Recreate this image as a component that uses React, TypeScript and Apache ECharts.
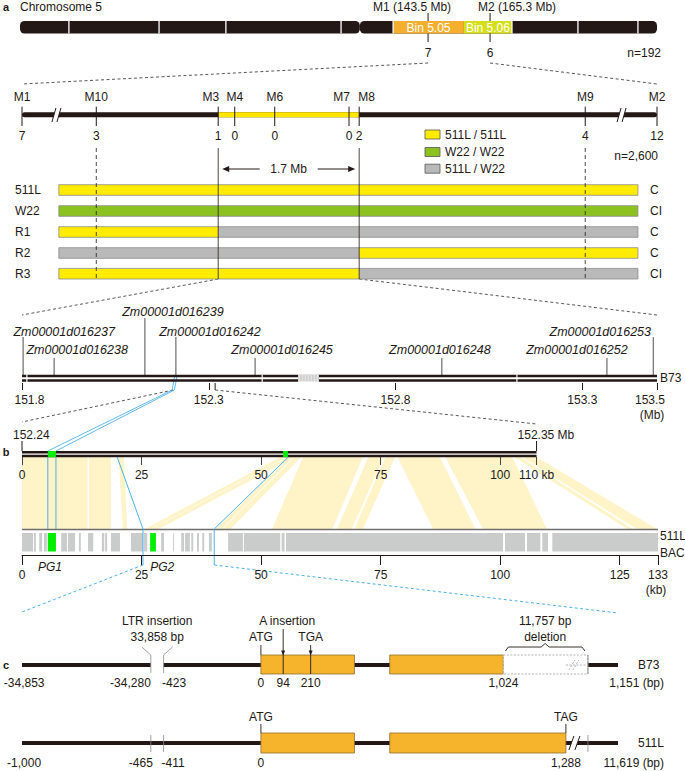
import React, { useEffect, useRef } from "react";
import * as echarts from "echarts";

// ---------------- Panel a: chromosome 5 overview (Mb) ----------------
const chr5LengthMb = 224;
const chr5CentromereMb = 119.5;
const chr5BandEdgesMb = [17.2, 48.9, 72.4, 112.9, 196.2, 217.3];
const binNames = ["Bin 5.05", "Bin 5.06"];
const binStartMb = [131.2, 156.1];
const binEndMb = [156.1, 173.0];
const chrMarkerLabels = ["M1 (143.5 Mb)", "M2 (165.3 Mb)"];
const chrMarkerMb = [143.5, 165.3];
const chrMarkerRecombinants = [7, 6];
const chrPopulation = "n=192";

// ---------------- Panel a: fine map (schematic % along map) ----------------
const mapMarkers = ["M1", "M10", "M3", "M4", "M6", "M7", "M8", "M9", "M2"];
const mapMarkerPos = [0, 11.7, 30.9, 33.5, 39.8, 51.5, 53.1, 88.7, 100];
const mapRecombinants = [7, 3, 1, 0, 0, 0, 2, 4, 12];
const mapBreakPos = [5.5, 94.5];
const mapPopulation = "n=2,600";
const mapIntervalLabel = "1.7 Mb";
const genotypeNames = ["511L / 511L", "W22 / W22", "511L / W22"];
const lineNames = ["511L", "W22", "R1", "R2", "R3"];
const linePhenotypes = ["C", "CI", "C", "C", "CI"];
// genotype index (0 = 511L/511L, 1 = W22/W22, 2 = 511L/W22) left of M3, M3–M8, right of M8
const lineGenotypes = [[0, 0, 0], [1, 1, 1], [0, 2, 2], [2, 2, 0], [0, 0, 2]];
const lineBarExtent = [5.8, 97.0];

// ---------------- Panel a: B73 genes (Mb) ----------------
const geneIds = ["Zm00001d016237", "Zm00001d016238", "Zm00001d016239", "Zm00001d016242", "Zm00001d016245", "Zm00001d016248", "Zm00001d016252", "Zm00001d016253"];
const geneMb = [151.803, 151.886, 152.129, 152.212, 152.424, 152.924, 153.366, 153.49];
const geneTier = [1, 2, 0, 1, 2, 2, 2, 1];
const b73WindowMb = [151.8, 153.5];
const mbTicks = [151.8, 152.3, 152.8, 153.3, 153.5];
const b73LineBreaksMb = [151.813, 152.443, 153.125];
const b73UnsequencedMb = [152.539, 152.595];
const zoomRegionMb = [152.205, 152.317];

// ---------------- Panel b: B73 vs 511L BAC (kb) ----------------
const regionLabels = ["152.24", "152.35 Mb"];
const b73RegionKb = 107.6;
const b73KbTicks = [0, 25, 50, 75, 100, 107.6];
const b73KbTickLabels = ["0", "25", "50", "75", "100", "110 kb"];
const bacLengthKb = 133;
const bacKbTicks = [0, 25, 50, 75, 100, 125, 133];
// [B73 start, B73 end, BAC start, BAC end]
const syntenyKb = [
  [0, 13.7, 0, 13.7],
  [14.0, 18.6, 14.0, 18.6],
  [20.2, 21.3, 21.1, 22.0],
  [54.0, 55.4, 25.7, 26.9],
  [55.6, 57.0, 27.1, 28.6],
  [55.9, 56.8, 40.5, 41.8],
  [57.0, 58.4, 42.0, 43.6],
  [58.8, 71.3, 52.3, 64.9],
  [72.4, 75.6, 65.9, 69.0],
  [76.0, 78.0, 69.5, 71.3],
  [78.5, 87.4, 86.0, 94.8],
  [88.5, 102.5, 96.4, 109.8],
  [102.9, 104.2, 126.6, 127.8],
  [104.6, 107.6, 128.5, 132.8],
];
const bacBlocksKb = [
  [0, 2.3], [2.5, 2.9], [3.6, 4.2], [4.6, 5.2], [8.2, 9.4], [9.6, 11.1], [11.9, 12.3], [13.8, 14.9],
  [16.7, 17.2], [17.4, 17.8], [18.6, 20.5], [22.8, 25.3], [25.5, 26.2], [29.1, 29.7], [31.6, 31.8],
  [33.3, 33.9], [34.1, 35.1], [35.4, 35.8], [36.6, 37.0], [37.7, 38.1], [39.1, 39.7], [43.1, 46.2],
  [46.4, 54.0], [54.3, 54.9], [55.2, 100.6], [101.0, 105.2], [105.6, 108.4], [108.8, 110.0], [110.9, 133],
];
const pgNames = ["PG1", "PG2"];
const pgB73Kb = [[5.4, 7.1], [54.6, 55.6]];
const pgBacKb = [[5.4, 7.1], [26.8, 28.0]];
// blue links [B73 kb, BAC kb]
const pgLinksKb = [[5.4, 5.4], [7.1, 7.1], [19.9, 25.3], [55.7, 40.2]];

// ---------------- Panel c: gene structure (bp, 511L frame) ----------------
const displayRangeBp = [-1009, 1508];
const ltrSiteBp = [-465, -411];
const l511ExonsBp = [[0, 395], [544, 1288]];
const b73ExonsBp = [[0, 395], [544, 1024]];
const b73DeletionBp = [1024, 1381];
const aInsertionBp = 94;
const tgaBp = 210;
const b73TickBp = [-1000, -465, -411, 0, 94, 210, 1024];
const b73TickLabels = ["-34,853", "-34,280", "-423", "0", "94", "210", "1,024"];
const b73EndLabel = "1,151 (bp)";
const l511TickBp = [-1000, -465, -411, 0, 1288];
const l511TickLabels = ["-1,000", "-465", "-411", "0", "1,288"];
const l511EndLabel = "11,619 (bp)";
const ltrLabel = ["LTR insertion", "33,858 bp"];
const aInsertionLabel = "A insertion";
const deletionLabel = ["11,757 bp", "deletion"];

// ---------------- styles ----------------
const FONT = "'Liberation Sans', Arial, Helvetica, sans-serif";
const INK = "#231815";
const BIN_COLORS = ["#F5AF2E", "#D5DF1C"];
const GENO_COLORS = ["#FFEC00", "#8CC220", "#B9B9B9"];
const MAP_YELLOW = "#FFE600";
const RIBBON = "#FFF3C8";
const BAC_GRAY = "#CACBCB";
const PG_GREEN = "#00EE00";
const BLUE = "#3AA8E6";
const EXON = "#F6B42C";
const EXON_EDGE = "#8E6F2F";
const CHR_LABEL_SHIFT = [-16, 27];
const MAP_LABEL_ALIGN = ["center", "center", "right", "center", "center", "right", "left", "center", "center"];
const GENE_LABEL_SHIFT = [41, 23, 28, 34, 27, -2, -30, -53];
const ROW_Y = [190, 211, 232, 253, 273.7];

function font(size: number, o: any = {}) {
  return `${o.italic ? "italic " : ""}${o.bold ? "bold " : ""}${size}px ${FONT}`;
}
function T(x: number, y: number, text: string, o: any = {}) {
  const align = o.align || "center";
  const va = o.valign || "middle";
  return {
    type: "text", x, y, silent: true,
    style: { text, fill: o.color || INK, font: font(o.size || 12, o), align, verticalAlign: va, textAlign: align, textVerticalAlign: va },
  };
}
function L(x1: number, y1: number, x2: number, y2: number, o: any = {}) {
  const style: any = { stroke: o.color || INK, lineWidth: o.width ?? 1 };
  if (o.dash) style.lineDash = o.dash;
  return { type: "line", silent: true, shape: { x1, y1, x2, y2 }, style };
}
function R(x: number, y: number, w: number, h: number, fill: string, o: any = {}) {
  const style: any = { fill, stroke: o.stroke || "none", lineWidth: o.lw ?? 1 };
  if (o.dash) style.lineDash = o.dash;
  return { type: "rect", silent: true, shape: { x, y, width: w, height: h, r: o.r || 0 }, style };
}
function PG(points: number[][], fill: string, o: any = {}) {
  return { type: "polygon", silent: true, shape: { points }, style: { fill, stroke: o.stroke || "none", lineWidth: o.lw ?? 1 } };
}
function PL(points: number[][], color: string, width = 1, dash?: number[]) {
  const style: any = { stroke: color, lineWidth: width, fill: "none" };
  if (dash) style.lineDash = dash;
  return { type: "polyline", silent: true, shape: { points }, style };
}
const X = (api: any, v: number) => api.coord([v, 0])[0];
function spanRect(api: any, x0: number, x1: number, y0: number, y1: number, fill: string, o: any = {}) {
  const a = X(api, x0), b = X(api, x1);
  return R(a, y0, b - a, y1 - y0, fill, o);
}

// ---------------- renderers ----------------
function renderChr(api: any) {
  const ch: any[] = [];
  const y0 = 21, y1 = 33.5;
  ch.push(spanRect(api, 0, chr5CentromereMb, y0, y1, INK, { r: 4.5 }));
  ch.push(spanRect(api, chr5CentromereMb, chr5LengthMb, y0, y1, INK, { r: 4.5 }));
  binNames.forEach((name, i) => {
    ch.push(spanRect(api, binStartMb[i], binEndMb[i], y0, y1, BIN_COLORS[i]));
    ch.push(T(X(api, (binStartMb[i] + binEndMb[i]) / 2), 27.5, name, { color: "#fff" }));
  });
  for (const e of [...chr5BandEdgesMb, binStartMb[0], binEndMb[binEndMb.length - 1]]) {
    const x = X(api, e);
    ch.push(L(x, y0, x, y1, { color: "#fff", width: 1.3 }));
  }
  chrMarkerMb.forEach((m, i) => {
    const x = X(api, m);
    ch.push(L(x, 13, x, y0));
    ch.push(L(x, y1, x, 42));
    ch.push(T(x + CHR_LABEL_SHIFT[i], 6.5, chrMarkerLabels[i]));
    ch.push(T(x, 53, String(chrMarkerRecombinants[i])));
  });
  ch.push(T(X(api, 0), 6.5, "Chromosome 5", { align: "left" }));
  ch.push(T(X(api, chr5LengthMb) + 4, 53, chrPopulation, { align: "right" }));
  return ch;
}

function renderMap(api: any) {
  const ch: any[] = [];
  const ly0 = 112.3, ly1 = 117.3;
  const m3 = mapMarkerPos[2], m8 = mapMarkerPos[6];
  ch.push(spanRect(api, 0, 100, ly0, ly1, INK, { r: 2.5 }));
  ch.push(spanRect(api, m3, m8, ly0, ly1, MAP_YELLOW));
  for (const b of mapBreakPos) {
    const x = X(api, b), yT = 108, yB = 122;
    ch.push(PG([[x - 5, yB], [x - 1, yT], [x + 4, yT], [x, yB]], "#fff"));
    ch.push(L(x - 5, yB, x - 1, yT));
    ch.push(L(x, yB, x + 4, yT));
  }
  mapMarkers.forEach((name, i) => {
    const x = X(api, mapMarkerPos[i]);
    ch.push(L(x, 106.7, x, 126));
    const al = MAP_LABEL_ALIGN[i];
    ch.push(T(x + (al === "right" ? 1 : al === "left" ? -1 : 0), 97, name, { align: al }));
    ch.push(T(x, 135.5, String(mapRecombinants[i])));
  });
  ch.push(T(X(api, 100) + 1, 156, mapPopulation, { align: "right" }));
  // legend
  genotypeNames.forEach((name, i) => {
    const yc = [134.5, 152, 168.7][i];
    ch.push(R(425, yc - 4.5, 15, 9, GENO_COLORS[i], { stroke: "#555", lw: 0.8 }));
    ch.push(T(445, yc, name, { align: "left" }));
  });
  // interval arrow
  const xl = X(api, m3), xr = X(api, m8), mid = (xl + xr) / 2, ya = 169;
  ch.push(T(mid, ya, mapIntervalLabel));
  ch.push(L(mid - 29, ya, xl + 8, ya));
  ch.push(PG([[xl + 4, ya], [xl + 11, ya - 3], [xl + 11, ya + 3]], INK));
  ch.push(L(mid + 29, ya, xr - 8, ya));
  ch.push(PG([[xr - 4, ya], [xr - 11, ya - 3], [xr - 11, ya + 3]], INK));
  // genotype rows
  lineNames.forEach((name, r) => {
    const yc = ROW_Y[r], yT = yc - 5.3, yB = yc + 5.3;
    const edges = [lineBarExtent[0], m3, m8, lineBarExtent[1]];
    lineGenotypes[r].forEach((g, k) => ch.push(spanRect(api, edges[k], edges[k + 1], yT, yB, GENO_COLORS[g])));
    ch.push(spanRect(api, edges[0], edges[3], yT, yB, "none", { stroke: "#8C8C8C", lw: 0.8 }));
    ch.push(T(X(api, 0) - 7, yc, name, { align: "left" }));
    ch.push(T(X(api, 100) - 7, yc, linePhenotypes[r], { align: "left" }));
  });
  [1, 7].forEach((i) => {
    const x = X(api, mapMarkerPos[i]);
    ch.push(L(x, 148, x, 279, { dash: [4, 3], width: 0.8 }));
  });
  [2, 6].forEach((i) => {
    const x = X(api, mapMarkerPos[i]);
    ch.push(L(x, 148, x, 279, { width: 0.8 }));
  });
  return ch;
}

function renderGenes(api: any) {
  const ch: any[] = [];
  const TIER_Y = [312, 332, 350];
  const TICK_TOP = [318, 337, 358];
  geneIds.forEach((id, i) => {
    const x = X(api, geneMb[i]);
    const t = geneTier[i];
    ch.push(L(x, TICK_TOP[t], x, 375, { color: "#3a3a3a", width: 0.9 }));
    ch.push(T(x + GENE_LABEL_SHIFT[i], TIER_Y[t], id, { italic: true, size: 12.5 }));
  });
  ch.push(spanRect(api, b73WindowMb[0], b73WindowMb[1], 374.8, 377.3, INK));
  ch.push(spanRect(api, b73WindowMb[0], b73WindowMb[1], 379.2, 381.7, INK));
  for (const b of b73LineBreaksMb) {
    const x = X(api, b);
    ch.push(L(x, 374.5, x, 382, { color: "#fff", width: 1.2 }));
  }
  const u0 = X(api, b73UnsequencedMb[0]), u1 = X(api, b73UnsequencedMb[1]);
  ch.push(R(u0, 374.5, u1 - u0, 7.5, "#fff"));
  for (let x = u0 + 0.75; x < u1; x += 1.5) ch.push(L(x, 375, x, 381.5, { color: "#9a9a9a", width: 0.6 }));
  ch.push(T(X(api, b73WindowMb[1]) + 3, 378, "B73", { align: "left" }));
  ch.push(T(X(api, b73WindowMb[1]) - 5, 415, "(Mb)"));
  const xz = X(api, zoomRegionMb[1]);
  ch.push(L(xz, 383, xz, 390));
  return ch;
}

function renderPanelB(api: any) {
  const ch: any[] = [];
  const yTop = 457, yBot = 529;
  for (const [a, b, c, d] of syntenyKb) {
    ch.push(PG([[X(api, a), yTop], [X(api, b), yTop], [X(api, d), yBot], [X(api, c), yBot]], RIBBON));
  }
  // B73 double line
  ch.push(spanRect(api, 0, b73RegionKb, 451, 453.4, INK));
  ch.push(spanRect(api, 0, b73RegionKb, 454.8, 457.2, INK));
  for (const v of [0, b73RegionKb]) {
    const x = X(api, v);
    ch.push(L(x, 441, x, 451));
  }
  ch.push(T(X(api, 0) - 9, 435, regionLabels[0], { align: "left" }));
  ch.push(T(X(api, b73RegionKb) - 19, 435, regionLabels[1], { align: "left" }));
  // BAC
  ch.push(L(X(api, 0), 529.5, X(api, bacLengthKb), 529.5, { color: "#6d6d6d", width: 1.5 }));
  for (const [s, e] of bacBlocksKb) ch.push(spanRect(api, s, e, 533, 551.5, BAC_GRAY));
  pgNames.forEach((name, i) => {
    ch.push(spanRect(api, pgB73Kb[i][0], pgB73Kb[i][1], 451, 457.2, PG_GREEN));
    ch.push(spanRect(api, pgBacKb[i][0], pgBacKb[i][1], 533, 551.5, PG_GREEN));
    const x = i === 0 ? X(api, (pgBacKb[i][0] + pgBacKb[i][1]) / 2) - 2 : X(api, pgBacKb[i][0]);
    ch.push(T(x, 567, name, { italic: true, align: i === 0 ? "center" : "left" }));
  });
  ch.push(T(X(api, bacLengthKb) + 2, 536, "511L", { align: "left" }));
  ch.push(T(X(api, bacLengthKb) + 2, 553, "BAC", { align: "left" }));
  ch.push(T(X(api, bacLengthKb) - 2, 590, "(kb)"));
  // blue links
  pgLinksKb.forEach(([top, bot], i) => {
    const pts = [[X(api, top), yTop], [X(api, bot), yBot]];
    if (i >= 2) pts.push([X(api, bot), 565]);
    ch.push(PL(pts, BLUE, 0.9));
  });
  return ch;
}

function renderPanelC(api: any) {
  const ch: any[] = [];
  const [x0, x1] = [X(api, displayRangeBp[0]), X(api, displayRangeBp[1])];
  const gL = X(api, ltrSiteBp[0]), gR = X(api, ltrSiteBp[1]);
  // ---- B73 ----
  const yb = 665, bT = 655, bB = 674;
  ch.push(R(x0, yb - 2, x1 - x0, 4, INK));
  ch.push(R(gL, yb - 3, gR - gL, 6, "#fff"));
  ch.push(PL([[gL - 9, 647], [gL, 655], [gL, 673]], "#8a8a8a", 0.8));
  ch.push(PL([[gR + 9, 647], [gR, 655], [gR, 673]], "#8a8a8a", 0.8));
  for (const [s, e] of b73ExonsBp) ch.push(spanRect(api, s, e, bT, bB, EXON, { stroke: EXON_EDGE, lw: 0.8 }));
  ch.push(spanRect(api, b73DeletionBp[0], b73DeletionBp[1], bT, bB, "#fff", { stroke: "#a0a0a0", lw: 0.8, dash: [2, 1.5] }));
  const xd = X(api, b73DeletionBp[1]);
  ch.push(L(xd, bT, xd, bB, { color: "#8a8a8a", width: 0.9 }));
  const x1288 = X(api, l511ExonsBp[1][1]);
  ch.push(L(x1288, yb, xd, yb, { color: "#a0a0a0", width: 0.8, dash: [2, 1.5] }));
  ch.push(L(x1288 + 3, yb + 5, x1288 + 9, yb - 5, { color: "#a0a0a0", width: 0.8, dash: [2, 1.5] }));
  ch.push(L(x1288 + 7, yb + 5, x1288 + 13, yb - 5, { color: "#a0a0a0", width: 0.8, dash: [2, 1.5] }));
  // insertion / codon marks
  const xA = X(api, aInsertionBp), xT = X(api, tgaBp), xS = X(api, 0);
  ch.push(L(xA, 629, xA, bB, { width: 0.9 }));
  ch.push(L(xT, 645, xT, bB, { width: 0.9 }));
  ch.push(L(xS, 645, xS, bT, { width: 0.9 }));
  for (const x of [xA, xT]) ch.push(PG([[x - 2, 650.5], [x + 2, 650.5], [x, 655.5]], INK));
  ch.push(T((gL + gR) / 2, 621, ltrLabel[0]));
  ch.push(T((gL + gR) / 2, 637, ltrLabel[1]));
  ch.push(T(xA + 4, 621, aInsertionLabel));
  ch.push(T(xS, 637, "ATG"));
  ch.push(T(xT, 637, "TGA"));
  const d0 = X(api, b73DeletionBp[0]) + 2, d1 = xd - 3, dm = (d0 + d1) / 2;
  ch.push(T(dm, 621, deletionLabel[0]));
  ch.push(T(dm, 637, deletionLabel[1]));
  ch.push(PL([[d0, 651], [d0 + 3, 647], [dm - 4, 647], [dm, 643.5], [dm + 4, 647], [d1 - 3, 647], [d1, 651]], INK, 0.9));
  b73TickBp.forEach((v, i) => {
    const x = X(api, v);
    const align = i === 1 ? "right" : i === 2 ? "left" : "center";
    ch.push(T(x + (i === 1 ? 0 : i === 2 ? -1.5 : 0), 683, b73TickLabels[i], { align }));
  });
  ch.push(T(x1 + 46, 683, b73EndLabel, { align: "right" }));
  ch.push(T(x1 + 20, yb, "B73", { align: "left" }));
  // ---- 511L ----
  const yl = 743, lT = 733, lB = 753;
  ch.push(R(x0, yl - 2, x1 - x0, 4, INK));
  for (const x of [gL, gR, xd]) ch.push(L(x, 735, x, 752, { color: "#8a8a8a", width: 0.8 }));
  for (const [s, e] of l511ExonsBp) ch.push(spanRect(api, s, e, lT, lB, EXON, { stroke: EXON_EDGE, lw: 0.8 }));
  ch.push(PG([[x1288 + 3, yl + 7], [x1288 + 8, yl - 7], [x1288 + 14, yl - 7], [x1288 + 9, yl + 7]], "#fff"));
  ch.push(L(x1288 + 3, yl + 7, x1288 + 8, yl - 7));
  ch.push(L(x1288 + 9, yl + 7, x1288 + 14, yl - 7));
  ch.push(L(xS, 724, xS, lT, { width: 0.9 }));
  ch.push(L(x1288, 724, x1288, lT, { width: 0.9 }));
  ch.push(T(xS, 717, "ATG"));
  ch.push(T(x1288, 717, "TAG"));
  l511TickBp.forEach((v, i) => {
    const x = X(api, v);
    const align = i === 1 ? "right" : i === 2 ? "left" : "center";
    ch.push(T(x + (i === 1 ? 2 : i === 2 ? -2 : 0), 763, l511TickLabels[i], { align }));
  });
  ch.push(T(x1 + 46, 763, l511EndLabel, { align: "right" }));
  ch.push(T(x1 + 20, yl, "511L", { align: "left" }));
  return ch;
}

function custom(g: number, xmin: number, render: (api: any) => any[]) {
  return {
    type: "custom", xAxisIndex: g, yAxisIndex: g, data: [[xmin, 0]], silent: true, clip: false, z: 2,
    renderItem: (_p: any, api: any) => ({ type: "group", children: render(api) }),
  };
}

function hiddenX(g: number, min: number, max: number) {
  return { gridIndex: g, type: "value", min, max, show: false };
}
function tickX(g: number, min: number, max: number, ticks: number[], o: any) {
  return {
    gridIndex: g, type: "value", min, max, position: "bottom", z: 10,
    axisLine: { show: !!o.line, lineStyle: { color: INK, width: 1 } },
    axisTick: { show: true, length: o.len, customValues: ticks, lineStyle: { color: o.tickColor || INK, width: 1 } },
    axisLabel: {
      show: true, customValues: ticks, margin: o.margin, color: INK, fontFamily: FONT, fontSize: 12,
      formatter: o.formatter, rich: o.rich,
    },
    splitLine: { show: false },
  };
}

function buildOption() {
  const FULL = { top: 0, height: 771, outerBoundsMode: "none", containLabel: false };
  const grids = [
    { left: 20, width: 637, ...FULL },
    { left: 22, width: 635, ...FULL },
    { left: 22, width: 635, ...FULL },
    { left: 22, width: 635, top: 300, height: 83, outerBoundsMode: "none" },
    { left: 22, width: 636, ...FULL },
    { left: 22, width: 636, top: 400, height: 57, outerBoundsMode: "none" },
    { left: 22, width: 636, top: 500, height: 55, outerBoundsMode: "none" },
    { left: 22, width: 596, ...FULL },
  ];
  const richBase = { fontFamily: FONT, fontSize: 12, color: INK };
  const xAxis = [
    hiddenX(0, 0, chr5LengthMb),
    hiddenX(1, 0, 100),
    hiddenX(2, b73WindowMb[0], b73WindowMb[1]),
    tickX(3, b73WindowMb[0], b73WindowMb[1], mbTicks, {
      len: 7, margin: 11,
      formatter: (v: number) => (v <= mbTicks[0] ? `{a|${v.toFixed(1)}}` : v >= mbTicks[mbTicks.length - 1] ? `{b|${v.toFixed(1)}}` : v.toFixed(1)),
      rich: { a: { ...richBase, padding: [0, 0, 0, 15] }, b: { ...richBase, padding: [0, 14, 0, 0] } },
    }),
    hiddenX(4, 0, bacLengthKb),
    tickX(5, 0, bacLengthKb, b73KbTicks, {
      len: 8, margin: 12, tickColor: "#444",
      formatter: (v: number) => b73KbTickLabels[b73KbTicks.indexOf(v)] ?? String(v),
    }),
    tickX(6, 0, bacLengthKb, bacKbTicks, { len: 10, margin: 14, line: true, formatter: (v: number) => String(v) }),
    hiddenX(7, displayRangeBp[0], displayRangeBp[1]),
  ];
  const yAxis = grids.map((g: any, i) => {
    if (i === 3 || i === 5 || i === 6) return { gridIndex: i, type: "value", min: 0, max: 1, show: false };
    return { gridIndex: i, type: "value", min: 0, max: 771, inverse: true, show: false };
  });
  return {
    animation: false,
    backgroundColor: "#fff",
    textStyle: { fontFamily: FONT },
    grid: grids,
    xAxis,
    yAxis,
    series: [
      custom(0, 0, renderChr),
      custom(1, 0, renderMap),
      custom(2, b73WindowMb[0], renderGenes),
      custom(4, 0, renderPanelB),
      custom(7, 0, renderPanelC),
    ],
  };
}

function buildGraphic(chart: any) {
  const px = (g: number, x: number, y: number) => chart.convertToPixel({ gridIndex: g }, [x, y]) as number[];
  const els: any[] = [];
  els.push(T(6, 6.5, "a", { bold: true, size: 11 }));
  els.push(T(6, 452, "b", { bold: true, size: 11 }));
  els.push(T(6, 665, "c", { bold: true, size: 11 }));
  const dash = (a: number[], b: number[], color = "#444") => els.push(L(a[0], a[1], b[0], b[1], { color, dash: [3, 2.5], width: 0.9 }));
  dash(px(0, chrMarkerMb[0], 63), px(1, mapMarkerPos[0], 84));
  dash(px(0, chrMarkerMb[1], 63), px(1, mapMarkerPos[mapMarkerPos.length - 1], 84));
  dash(px(1, mapMarkerPos[2], 279), px(2, b73WindowMb[0], 315));
  dash(px(1, mapMarkerPos[6], 279), px(2, b73WindowMb[1], 315));
  dash(px(2, zoomRegionMb[0], 390), px(4, 0, 422));
  dash(px(2, zoomRegionMb[1], 390), px(4, b73RegionKb, 424));
  pgB73Kb[0].forEach((kb, k) => {
    const off = k === 0 ? -0.003 : 0.003;
    els.push(PL([px(2, geneMb[3] + off, 376), px(2, zoomRegionMb[0] + off, 390), px(4, kb, 451)], BLUE, 0.8));
  });
  dash(px(4, pgLinksKb[2][1], 565), px(7, displayRangeBp[0], 612), BLUE);
  dash(px(4, pgLinksKb[3][1], 565), px(7, displayRangeBp[1], 613), BLUE);
  return els;
}

export default function App() {
  const ref = useRef<HTMLDivElement>(null);
  useEffect(() => {
    if (!ref.current) return;
    const chart = echarts.init(ref.current, null, { renderer: "svg" });
    chart.setOption(buildOption() as any);
    chart.setOption({ graphic: { elements: buildGraphic(chart) } } as any);
    return () => chart.dispose();
  }, []);
  return <div ref={ref} style={{ position: "absolute", left: 0, top: 0, width: 685, height: 771, background: "#fff" }} />;
}
